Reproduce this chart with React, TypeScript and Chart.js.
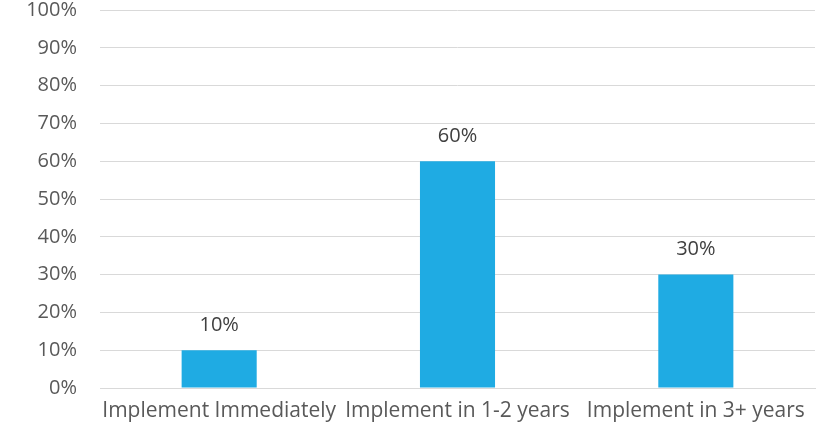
import React, { useEffect, useRef } from "react";
import { Chart, registerables } from "chart.js";

Chart.register(...registerables);

const categories = ["Implement Immediately", "Implement in 1-2 years", "Implement in 3+ years"];
const values = [10, 60, 30];
const FONT = "'Open Sans', sans-serif";

const dataLabels = {
  id: "dataLabels",
  afterDatasetsDraw(chart: any) {
    const ctx = chart.ctx;
    const meta = chart.getDatasetMeta(0);
    ctx.save();
    ctx.font = `20px ${FONT}`;
    ctx.fillStyle = "#404040";
    ctx.textAlign = "center";
    ctx.textBaseline = "middle";
    meta.data.forEach((bar: any, i: number) => {
      ctx.fillText(values[i] + "%", bar.x, bar.y - 25);
    });
    ctx.restore();
  },
};

export default function App() {
  const ref = useRef<HTMLCanvasElement>(null);
  useEffect(() => {
    document.body.style.margin = "0";
    const chart = new Chart(ref.current!, {
      type: "bar",
      data: {
        labels: categories,
        datasets: [
          {
            data: values,
            backgroundColor: "#1FABE3",
            barPercentage: 0.315,
            categoryPercentage: 1,
          },
        ],
      },
      options: {
        animation: false,
        responsive: false,
        layout: { padding: { top: 10, right: 15, bottom: 0, left: 0 } },
        plugins: { legend: { display: false }, tooltip: { enabled: false } },
        scales: {
          x: {
            grid: { display: false },
            border: { color: "#d9d9d9" },
            ticks: { color: "#595959", font: { family: FONT, size: 21 }, padding: 2, maxRotation: 0, autoSkip: false },
            afterFit: (s: any) => { s.height = 45; s.paddingLeft = 0; s.paddingRight = 0; },
          },
          y: {
            min: 0,
            max: 100,
            grid: { color: "#d9d9d9", drawTicks: false, lineWidth: 1 },
            border: { display: false },
            ticks: {
              stepSize: 10,
              color: "#595959",
              padding: 23,
              font: { family: FONT, size: 20 },
              callback: (v: any) => v + "%",
            },
            afterFit: (s: any) => { s.width = 100; s.paddingTop = 0; s.paddingBottom = 0; },
          },
        },
      },
      plugins: [dataLabels],
    });
    return () => chart.destroy();
  }, []);
  return <canvas ref={ref} width={830} height={433} style={{ display: "block" }} />;
}
